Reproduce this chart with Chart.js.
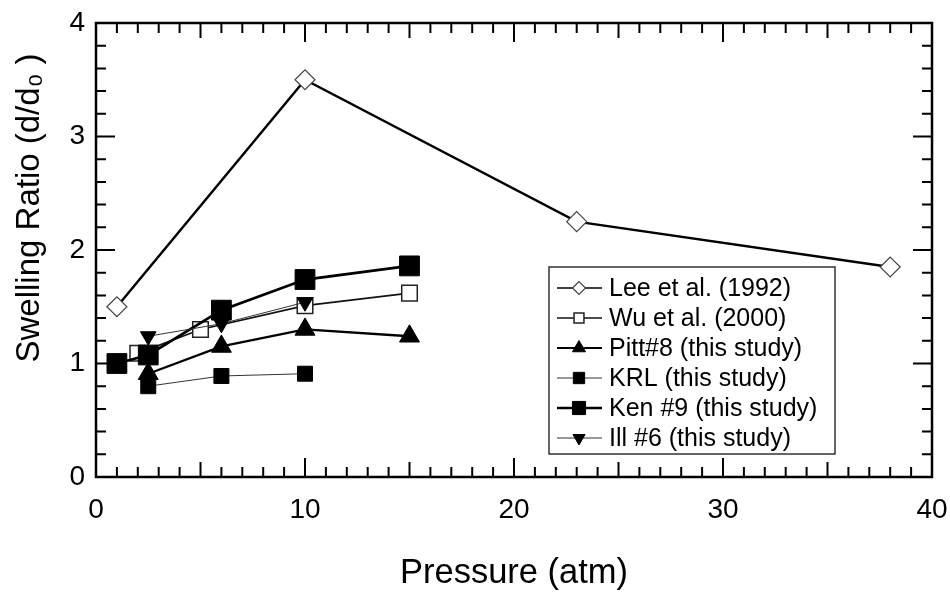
<!DOCTYPE html>
<html>
<head>
<meta charset="utf-8">
<script src="https://cdn.jsdelivr.net/npm/chart.js@4.4.0/dist/chart.umd.min.js"></script>
<style>
  html, body { margin: 0; padding: 0; background: #fff; }
</style>
</head>
<body>
<canvas id="swellChart" width="950" height="596"></canvas>
<script>
// Swelling ratio vs pressure (atm)
const leePressure = [1, 10, 23, 38];
const leeRatio = [1.5, 3.5, 2.25, 1.85];

const wuPressure = [2, 5, 10, 15];
const wuRatio = [1.09, 1.3, 1.51, 1.62];

const pittPressure = [2.5, 6, 10, 15];
const pittRatio = [0.91, 1.15, 1.3, 1.24];

const krlPressure = [2.5, 6, 10];
const krlRatio = [0.8, 0.89, 0.91];

const kenPressure = [1, 2.5, 6, 10, 15];
const kenRatio = [1.0, 1.075, 1.47, 1.74, 1.86];

const illPressure = [2.5, 6, 10];
const illRatio = [1.24, 1.35, 1.54];

const FONT = "'Liberation Sans', Arial, sans-serif";

function toPoints(xs, ys) {
  return xs.map((x, i) => ({ x: x, y: ys[i] }));
}

// Inward tick marks + frame on all four sides
const frameTicks = {
  id: "frameTicks",
  beforeDatasetsDraw(chart) {
    const { ctx, chartArea: a, scales: { x, y } } = chart;
    ctx.save();
    ctx.strokeStyle = "#000";
    ctx.lineWidth = 2;
    ctx.beginPath();
    for (let v = 0; v <= 40; v++) {
      const px = x.getPixelForValue(v);
      const len = v % 10 === 0 ? 19 : v % 5 === 0 ? 15 : 10;
      ctx.moveTo(px, a.bottom); ctx.lineTo(px, a.bottom - len);
      ctx.moveTo(px, a.top); ctx.lineTo(px, a.top + len);
    }
    for (let i = 0; i <= 20; i++) {
      const py = y.getPixelForValue(i / 5);
      const len = i % 5 === 0 ? 19 : 10;
      ctx.moveTo(a.left, py); ctx.lineTo(a.left + len, py);
      ctx.moveTo(a.right, py); ctx.lineTo(a.right - len, py);
    }
    ctx.stroke();
    ctx.lineWidth = 2.5;
    ctx.strokeRect(a.left, a.top, a.right - a.left, a.bottom - a.top);
    ctx.restore();
  },
  afterDraw(chart) {
    const ctx = chart.ctx;
    // y axis title
    ctx.save();
    ctx.translate(30, 208);
    ctx.rotate(-Math.PI / 2);
    ctx.fillStyle = "#000";
    ctx.font = "33px " + FONT;
    ctx.textAlign = "center";
    ctx.textBaseline = "middle";
    ctx.fillText("Swelling Ratio (d/d\u2080 )", 0, 0);
    ctx.restore();

    // legend box
    const box = { left: 549, top: 267, width: 286, height: 187 };
    ctx.save();
    ctx.fillStyle = "#fff";
    ctx.fillRect(box.left, box.top, box.width, box.height);
    ctx.strokeStyle = "#333";
    ctx.lineWidth = 1.5;
    ctx.strokeRect(box.left, box.top, box.width, box.height);
    ctx.font = "25px " + FONT;
    ctx.textBaseline = "middle";
    chart.data.datasets.forEach((ds, i) => {
      const ry = box.top + 21 + i * 30;
      ctx.strokeStyle = ds.borderColor;
      ctx.lineWidth = ds.legendLine;
      ctx.beginPath();
      ctx.moveTo(557, ry); ctx.lineTo(602, ry);
      ctx.stroke();
      ctx.fillStyle = ds.pointBackgroundColor;
      ctx.strokeStyle = ds.pointBorderColor;
      ctx.lineWidth = ds.pointBorderWidth;
      Chart.helpers.drawPoint(ctx, {
        pointStyle: ds.pointStyle,
        rotation: ds.pointRotation || 0,
        radius: ds.legendRadius,
        borderWidth: ds.pointBorderWidth
      }, 579, ry);
      ctx.fillStyle = "#000";
      ctx.fillText(ds.label, 609, ry + 1);
    });
    ctx.restore();
  }
};

const datasets = [
  {
    label: "Lee et al. (1992)", data: toPoints(leePressure, leeRatio),
    borderColor: "#000", borderWidth: 2.5,
    pointStyle: "rectRot", pointRadius: 10, pointBackgroundColor: "#fff",
    pointBorderColor: "#444", pointBorderWidth: 1.2,
    legendRadius: 6.5, legendLine: 1.5, order: 5
  },
  {
    label: "Wu et al. (2000)", data: toPoints(wuPressure, wuRatio),
    borderColor: "#111", borderWidth: 1.6,
    pointStyle: "rect", pointRadius: 11, pointBackgroundColor: "#fff",
    pointBorderColor: "#222", pointBorderWidth: 1.5,
    legendRadius: 7, legendLine: 1.5, order: 4
  },
  {
    label: "Pitt#8 (this study)", data: toPoints(pittPressure, pittRatio),
    borderColor: "#000", borderWidth: 2.3,
    pointStyle: "triangle", pointRadius: 11.5, pointBackgroundColor: "#000",
    pointBorderColor: "#000", pointBorderWidth: 1,
    legendRadius: 7.5, legendLine: 2, order: 2
  },
  {
    label: "KRL (this study)", data: toPoints(krlPressure, krlRatio),
    borderColor: "#333", borderWidth: 1,
    pointStyle: "rect", pointRadius: 10.6, pointBackgroundColor: "#000",
    pointBorderColor: "#000", pointBorderWidth: 1,
    legendRadius: 8, legendLine: 1.2, order: 3
  },
  {
    label: "Ken #9 (this study)", data: toPoints(kenPressure, kenRatio),
    borderColor: "#000", borderWidth: 2.8,
    pointStyle: "rect", pointRadius: 14, pointBackgroundColor: "#000",
    pointBorderColor: "#000", pointBorderWidth: 1,
    legendRadius: 9.3, legendLine: 2.3, order: 1
  },
  {
    label: "Ill #6 (this study)", data: toPoints(illPressure, illRatio),
    borderColor: "#333", borderWidth: 1,
    pointStyle: "triangle", pointRotation: 180, pointRadius: 9, pointBackgroundColor: "#000",
    pointBorderColor: "#000", pointBorderWidth: 1,
    legendRadius: 7, legendLine: 1.2, order: 0
  }
].map(ds => Object.assign({ showLine: true, fill: false, tension: 0, pointHoverRadius: ds.pointRadius }, ds));

new Chart(document.getElementById("swellChart"), {
  type: "scatter",
  data: { datasets: datasets },
  options: {
    responsive: false,
    animation: false,
    devicePixelRatio: 1,
    layout: { padding: { left: 0, right: 18, top: 23, bottom: 0 } },
    plugins: { legend: { display: false }, tooltip: { enabled: false } },
    scales: {
      x: {
        type: "linear", min: 0, max: 40,
        afterFit: s => { s.height = 119; s.paddingLeft = 0; s.paddingRight = 0; },
        grid: { display: false, drawTicks: false },
        border: { display: false },
        ticks: { stepSize: 10, padding: 16, color: "#000", font: { family: FONT, size: 28 } },
        title: {
          display: true, text: "Pressure (atm)", color: "#000",
          font: { family: FONT, size: 34.5 }, padding: { top: 0, bottom: 2 }
        }
      },
      y: {
        type: "linear", min: 0, max: 4,
        afterFit: s => { s.width = 96; s.paddingTop = 0; s.paddingBottom = 0; },
        grid: { display: false, drawTicks: false },
        border: { display: false },
        ticks: { stepSize: 1, padding: 11, color: "#000", font: { family: FONT, size: 28 } }
      }
    }
  },
  plugins: [frameTicks]
});
</script>
</body>
</html>
